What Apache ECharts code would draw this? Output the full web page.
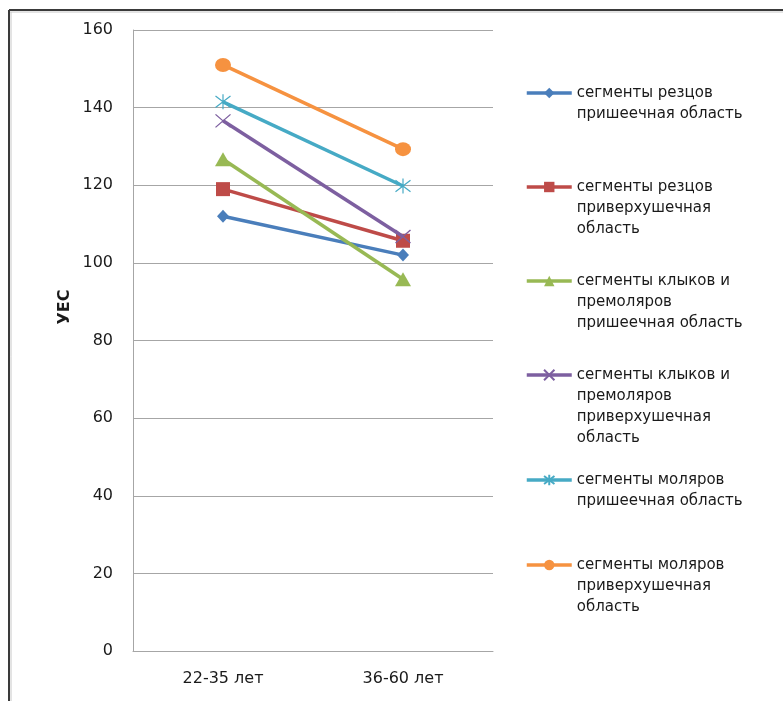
<!DOCTYPE html>
<html>
<head>
<meta charset="utf-8">
<script src="https://cdn.jsdelivr.net/npm/echarts@6/dist/echarts.min.js"></script>
<style>
html,body{margin:0;padding:0;background:#fff;}
#chart{width:783px;height:701px;}
</style>
</head>
<body>
<div id="chart"></div>
<script>
var categories = ['22-35 лет', '36-60 лет'];
var yTicks = [0, 20, 40, 60, 80, 100, 120, 140, 160];
var yName = 'УЕС';
var seriesNames = [
  'сегменты резцов пришеечная область',
  'сегменты резцов приверхушечная область',
  'сегменты клыков и премоляров пришеечная область',
  'сегменты клыков и премоляров приверхушечная область',
  'сегменты моляров пришеечная область',
  'сегменты моляров приверхушечная область'
];
var legendLines = [
  ['сегменты резцов', 'пришеечная область'],
  ['сегменты резцов', 'приверхушечная', 'область'],
  ['сегменты клыков и', 'премоляров', 'пришеечная область'],
  ['сегменты клыков и', 'премоляров', 'приверхушечная', 'область'],
  ['сегменты моляров', 'пришеечная область'],
  ['сегменты моляров', 'приверхушечная', 'область']
];
var incisorsCervical = [112, 102];
var incisorsApical = [119, 105.7];
var caninesCervical = [126.7, 95.8];
var caninesApical = [136.6, 106.8];
var molarsCervical = [141.5, 119.8];
var molarsApical = [151, 129.3];

var colors = ['#4a7ebb', '#be4b48', '#98b954', '#7d5fa0', '#46aac5', '#f69240'];
var symbols = [
  'diamond', 'rect', 'triangle',
  'path://M0,0L10,10M10,0L0,10',
  'path://M0,0L10,10M10,0L0,10M5,-1.5L5,11.5',
  'circle'
];
var symbolSizes = [[12, 13], [14, 14], [16, 14], [15, 13], [15, 15], [16, 14]];
var dataSets = [incisorsCervical, incisorsApical, caninesCervical, caninesApical, molarsCervical, molarsApical];
var legendIconY = [93, 187, 281, 375, 480, 565];

var LH = 21;
var series = dataSets.map(function (d, i) {
  var isPath = symbols[i].indexOf('path://') === 0;
  return {
    name: seriesNames[i],
    type: 'line',
    data: d,
    symbol: symbols[i],
    symbolSize: symbolSizes[i],
    showSymbol: true,
    lineStyle: { width: 3.5, color: colors[i] },
    itemStyle: isPath ? { color: colors[i], borderColor: colors[i], borderWidth: 1.2 } : { color: colors[i] },
    z: 2 + i,
    animation: false
  };
});

var legends = seriesNames.map(function (name, i) {
  var n = legendLines[i].length;
  return {
    data: [name],
    orient: 'vertical',
    left: 525,
    top: legendIconY[i] - (2 * n - 1) * LH / 2,
    padding: 0,
    itemWidth: 45,
    itemHeight: 13,
    selectedMode: false,
    lineStyle: { width: 3.5 },
    formatter: function () {
      var pre = [];
      for (var k = 0; k < n - 1; k++) pre.push(' ');
      return pre.concat(legendLines[i]).join('\n');
    },
    textStyle: { fontFamily: 'DejaVu Sans', fontSize: 15, color: '#1a1a1a', lineHeight: LH }
  };
});

var chart = echarts.init(document.getElementById('chart'), null, { renderer: 'canvas' });
chart.setOption({
  backgroundColor: '#fff',
  animation: false,
  grid: { left: 133, top: 30, width: 360, height: 621 },
  xAxis: {
    type: 'category',
    data: categories,
    boundaryGap: true,
    axisLine: { show: true, lineStyle: { color: '#a6a6a6', width: 1 } },
    axisTick: { show: false },
    axisLabel: { margin: 20, fontFamily: 'DejaVu Sans', fontSize: 16, color: '#1a1a1a' }
  },
  yAxis: {
    type: 'value',
    min: yTicks[0],
    max: yTicks[yTicks.length - 1],
    interval: 20,
    name: yName,
    nameLocation: 'middle',
    nameGap: 60,
    nameRotate: 90,
    nameTextStyle: { fontFamily: 'DejaVu Sans', fontSize: 16, fontWeight: 'bold', color: '#1a1a1a', padding: [0, 0, 0, 67] },
    axisLine: { show: true, lineStyle: { color: '#a6a6a6', width: 1 } },
    axisTick: { show: false },
    splitLine: { show: true, lineStyle: { color: '#a6a6a6', width: 1 } },
    axisLabel: { margin: 20, fontFamily: 'DejaVu Sans', fontSize: 16, color: '#1a1a1a' }
  },
  legend: legends,
  graphic: [
    { type: 'line', shape: { x1: 9, y1: 10, x2: 783, y2: 10 }, style: { stroke: '#3a3a3a', lineWidth: 2 } },
    { type: 'line', shape: { x1: 9, y1: 10, x2: 9, y2: 701 }, style: { stroke: '#3a3a3a', lineWidth: 2 } },
    { type: 'line', shape: { x1: 10, y1: 12, x2: 783, y2: 12 }, style: { stroke: '#c8c8c8', lineWidth: 1 } },
    { type: 'line', shape: { x1: 11, y1: 12, x2: 11, y2: 701 }, style: { stroke: '#c8c8c8', lineWidth: 1 } }
  ],
  series: series
});
</script>
</body>
</html>
